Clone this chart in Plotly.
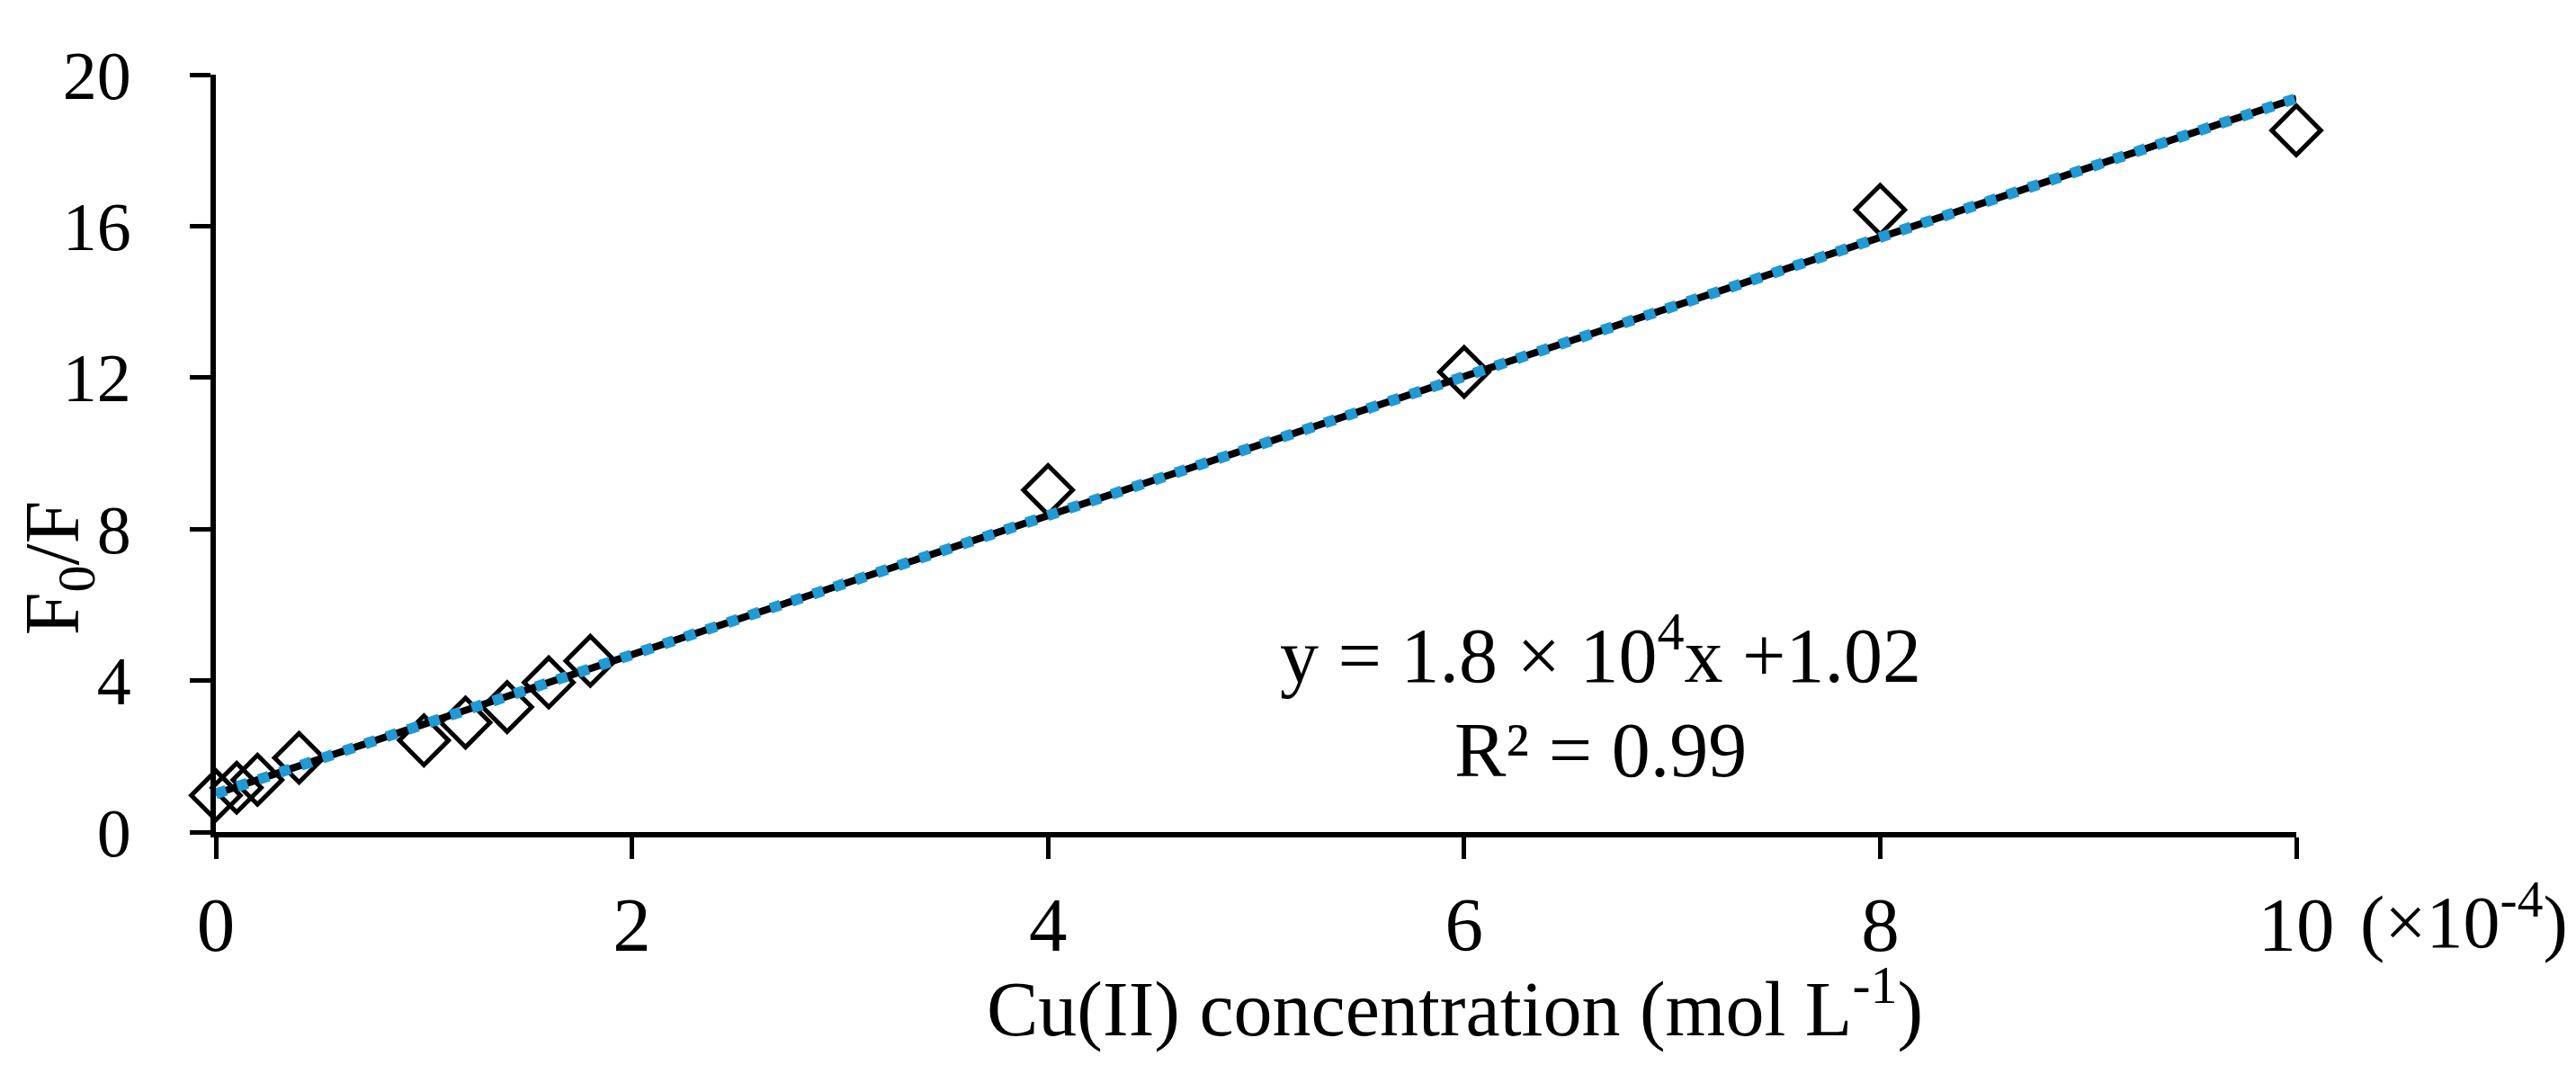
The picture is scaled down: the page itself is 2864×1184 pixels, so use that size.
import numpy as np
import plotly.graph_objects as go

# Cu(II) concentration (x 1e-4 mol/L) and F0/F
conc = [0, 0.1, 0.2, 0.4, 1.0, 1.2, 1.4, 1.6, 1.8, 4, 6, 8, 10]
f0_f = [0.97, 1.17, 1.38, 1.96, 2.42, 2.89, 3.30, 3.95, 4.52, 9.03, 12.15, 16.43, 18.53]

x_ticks = [0, 2, 4, 6, 8, 10]
y_ticks = [0, 4, 8, 12, 16, 20]

FONT = "Liberation Serif, Times New Roman, serif"

# linear trendline from the data
slope, icept = np.polyfit(conc, f0_f, 1)
fit_x = [min(conc), max(conc)]
fit_y = [slope * v + icept for v in fit_x]

fig = go.Figure()
fig.add_trace(go.Scatter(x=conc, y=f0_f, mode="markers", cliponaxis=False,
                         marker=dict(symbol="diamond-open", size=42, color="black",
                                     line=dict(color="black", width=5))))
fig.add_trace(go.Scatter(x=fit_x, y=fit_y, mode="lines", cliponaxis=False,
                         line=dict(color="black", width=8)))
fig.add_trace(go.Scatter(x=fit_x, y=fit_y, mode="lines", cliponaxis=False,
                         line=dict(color="#1F9AD6", width=12, dash="12px,13px")))

fig.update_layout(
    width=2864, height=1184, autosize=False,
    margin=dict(l=232, r=319, t=75, b=267),
    paper_bgcolor="white", plot_bgcolor="white",
    showlegend=False,
    font=dict(family=FONT, color="black"),
)
fig.update_xaxes(range=[0, 10], tickvals=x_ticks, showgrid=False, zeroline=False,
                 showline=True, linecolor="black", linewidth=6,
                 ticks="outside", ticklen=24, tickwidth=5, tickcolor="black",
                 tickfont=dict(size=85, family=FONT), ticklabelstandoff=0)
fig.update_yaxes(range=[0, 20], tickvals=y_ticks, showgrid=False, zeroline=False,
                 showline=True, linecolor="black", linewidth=6,
                 ticks="outside", ticklen=23, tickwidth=5, tickcolor="black",
                 tickfont=dict(size=76, family=FONT), ticklabelstandoff=50)

ann = dict(xref="paper", yref="paper", showarrow=False, font=dict(family=FONT, size=86, color="black"))
fig.add_annotation(text="Cu(II) concentration (mol L<sup>-1</sup>)", x=0.5955, y=-0.226,
                   xanchor="center", yanchor="middle", **ann)
fig.add_annotation(text="(×10<sup>-4</sup>)", x=1.0805, y=-0.112,
                   xanchor="center", yanchor="middle",
                   font=dict(family=FONT, size=82, color="black"),
                   xref="paper", yref="paper", showarrow=False)
fig.add_annotation(text="F<sub>0</sub>/F", x=-0.0760, y=0.349, textangle=-90,
                   xanchor="center", yanchor="middle", **ann)
fig.add_annotation(text="y = 1.8 × 10<sup>4</sup>x +1.02", x=0.6658, y=0.241,
                   xanchor="center", yanchor="middle", **ann)
fig.add_annotation(text="R² = 0.99", x=0.6658, y=0.108,
                   xanchor="center", yanchor="middle", **ann)

fig.write_html("out.html")
